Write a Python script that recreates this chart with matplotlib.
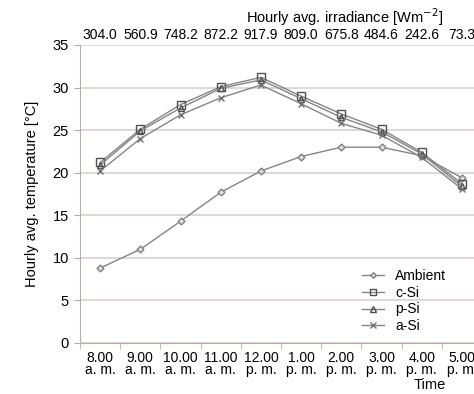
import matplotlib.pyplot as plt
import numpy as np

plt.rcParams['font.family'] = ['Liberation Sans', 'DejaVu Sans']

times = ['8.00\na. m.', '9.00\na. m.', '10.00\na. m.', '11.00\na. m.', '12.00\np. m.',
         '1.00\np. m.', '2.00\np. m.', '3.00\np. m.', '4.00\np. m.', '5.00\np. m.']
irradiance = ['304.0', '560.9', '748.2', '872.2', '917.9', '809.0', '675.8', '484.6', '242.6', '73.3']

ambient = [8.8, 11.0, 14.3, 17.7, 20.2, 21.9, 23.0, 23.0, 22.0, 19.4]
c_si = [21.2, 25.1, 28.0, 30.1, 31.2, 29.0, 26.9, 25.1, 22.4, 18.7]
p_si = [20.9, 24.9, 27.6, 29.9, 30.9, 28.7, 26.5, 24.8, 22.2, 18.4]
a_si = [20.2, 24.0, 26.8, 28.8, 30.3, 28.1, 25.8, 24.4, 21.8, 18.1]

x = np.arange(len(times))

fig = plt.figure(figsize=(4.74, 3.94), dpi=100)
ax = fig.add_axes([80 / 474, 51 / 394, 402 / 474, 298 / 394])

grid_c = '#d9d1cc'
line_c = '#858585'
ax.set_ylim(0, 35)
ax.set_xlim(-0.5, 9.5)
ax.set_yticks(range(0, 36, 5))
ax.grid(axis='y', color=grid_c, lw=1.2)
ax.set_axisbelow(True)

ax.plot(x, ambient, color=line_c, lw=1, marker='D', ms=3.5, mfc='#e0e0e0', mec='#808080', label='Ambient')
ax.plot(x, c_si, color=line_c, lw=1, marker='s', ms=6, mfc='none', mec='#505050', label='c-Si')
ax.plot(x, p_si, color=line_c, lw=1, marker='^', ms=5, mfc='none', mec='#505050', label='p-Si')
ax.plot(x, a_si, color=line_c, lw=1, marker='x', ms=5, mec='#707070', label='a-Si')

for s in ['top', 'right']:
    ax.spines[s].set_visible(False)
for s in ['left', 'bottom']:
    ax.spines[s].set_color('#b8aea8')

ax.set_xticks(x)
ax.set_xticklabels(times, fontsize=10, linespacing=0.8)
ax.set_xticks(np.arange(-0.5, 10, 1), minor=True)
ax.tick_params(axis='x', which='major', length=0, pad=6)
ax.tick_params(axis='x', which='minor', length=4, color='#b8aea8')
ax.tick_params(axis='y', length=4, color='#b8aea8', labelsize=10.5, pad=4)
ax.set_ylabel('Hourly avg. temperature [°C]', fontsize=10.5, labelpad=10)
fig.text(430 / 474, 1 - 385 / 394, 'Time', fontsize=10.5, ha='center', va='center')

top = ax.twiny()
top.set_xlim(ax.get_xlim())
top.set_xticks(x)
top.set_xticklabels(irradiance, fontsize=10)
top.tick_params(axis='x', length=0, pad=2)
for s in top.spines.values():
    s.set_visible(False)
fig.text(345 / 474, 1 - 17 / 394, 'Hourly avg. irradiance [Wm$^{-2}$]', fontsize=10.5, ha='center', va='center')

ax.legend(loc='upper left', bbox_to_anchor=(355 / 474, 1 - 262 / 394), bbox_transform=fig.transFigure,
          frameon=False, fontsize=10, handlelength=1.6, handletextpad=0.8, labelspacing=0.2,
          borderpad=0, markerscale=0.8)

fig.savefig('out.png', dpi=100)
